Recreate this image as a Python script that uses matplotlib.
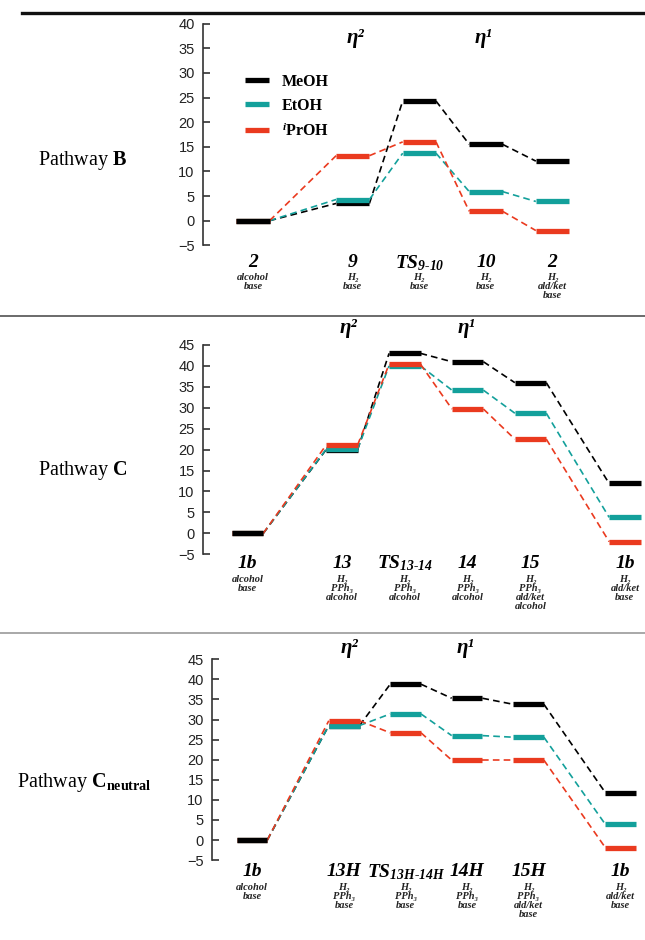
import matplotlib
matplotlib.use("Agg")
from matplotlib import pyplot as plt
from matplotlib.lines import Line2D
from matplotlib import transforms

plt.rcParams["font.family"] = ["Liberation Serif", "DejaVu Serif"]
plt.rcParams["mathtext.fontset"] = "custom"
plt.rcParams["mathtext.rm"] = "Liberation Serif:bold:italic"
plt.rcParams["mathtext.it"] = "Liberation Serif:bold:italic"
plt.rcParams["mathtext.bf"] = "Liberation Serif:bold:italic"
plt.rcParams["mathtext.sf"] = "Liberation Serif:bold"

series_names = ["MeOH", "EtOH", r"$^{i}$PrOH"]
series_colors = ["#000000", "#13a09b", "#ea3a1f"]

# Pathway B
b_pos = [0, 3, 5, 7, 9]
b_labels = ["2", "9", r"$TS_{9\text{-}10}$", "10", "2"]
b_sub = ["alcohol\nbase", "H₂\nbase", "H₂\nbase", "H₂\nbase", "H₂\nald/ket\nbase"]
b_meoh = [0, 3.5, 24.3, 15.5, 12.1]
b_etoh = [0, 4.3, 13.7, 5.9, 3.9]
b_iproh = [0, 13.2, 16.0, 1.9, -2.0]

# Pathway C
c_pos = [0, 3, 5, 7, 9, 12]
c_labels = ["1b", "13", r"$TS_{13\text{-}14}$", "14", "15", "1b"]
c_sub = ["alcohol\nbase", "H₂\nPPh₃\nalcohol", "H₂\nPPh₃\nalcohol", "H₂\nPPh₃\nalcohol",
         "H₂\nPPh₃\nald/ket\nalcohol", "H₂\nald/ket\nbase"]
c_meoh = [0, 20.0, 43.0, 41.0, 36.0, 11.9]
c_etoh = [0, 20.1, 40.0, 34.2, 28.7, 3.8]
c_iproh = [0, 21.1, 40.4, 29.7, 22.5, -2.0]

# Pathway C neutral
n_pos = [0, 3, 5, 7, 9, 12]
n_labels = ["1b", "13H", r"$TS_{13H\text{-}14H}$", "14H", "15H", "1b"]
n_sub = ["alcohol\nbase", "H₂\nPPh₃\nbase", "H₂\nPPh₃\nbase", "H₂\nPPh₃\nbase",
         "H₂\nPPh₃\nald/ket\nbase", "H₂\nald/ket\nbase"]
n_meoh = [0, 28.5, 38.8, 35.3, 33.8, 11.8]
n_etoh = [0, 28.5, 31.4, 26.0, 25.6, 3.9]
n_iproh = [0, 29.7, 26.7, 19.9, 19.9, -1.9]

W, H = 645, 940
fig = plt.figure(figsize=(W / 100, H / 100), dpi=100)


def px_box(x0, y0, x1, y1):
    return [x0 / W, 1 - y1 / H, (x1 - x0) / W, (y1 - y0) / H]


def fy(py):
    return 1 - py / H


def draw_panel(ax, pos, values, labels, subs, ymax, label_y, sub_y):
    for k, (vals, color) in enumerate(zip(values, series_colors)):
        for i, v in enumerate(vals):
            z = 6 if i == 0 and k == 0 else 3 + k
            ax.plot([pos[i] - 0.5, pos[i] + 0.5], [v, v], color=color, lw=3.8,
                    solid_capstyle="butt", zorder=z,
                    label=series_names[k] if i == 0 else None)
        for i in range(len(vals) - 1):
            ax.plot([pos[i] + 0.5, pos[i + 1] - 0.5], [vals[i], vals[i + 1]],
                    color=color, lw=1.2, dashes=(4, 2.5), zorder=2 + k)
    ax.set_ylim(-5, ymax)
    ax.set_yticks(range(-5, ymax + 1, 5))
    ax.set_xticks([])
    for s in ["top", "right", "bottom"]:
        ax.spines[s].set_visible(False)
    ax.spines["left"].set_color("#333333")
    ax.spines["left"].set_linewidth(1.2)
    ax.tick_params(axis="y", direction="in", length=5, width=1.2, color="#333333",
                   labelsize=10.5, pad=6)
    for t in ax.get_yticklabels():
        t.set_family("Liberation Sans")
        t.set_color("#222222")
    ax.patch.set_alpha(0)
    tr = transforms.blended_transform_factory(ax.transData, fig.transFigure)
    for p, lab, sub in zip(pos, labels, subs):
        ax.text(p, fy(label_y), lab, transform=tr, ha="center", va="center",
                fontsize=14, fontweight="bold", fontstyle="italic")
        ax.text(p, fy(sub_y), sub, transform=tr, ha="center", va="top",
                fontsize=7.5, fontweight="bold", fontstyle="italic",
                linespacing=1.0, color="#222222",
                family=["Liberation Serif", "DejaVu Serif"])


ax_b = fig.add_axes(px_box(203, 23.7, 645, 245.3))
ax_b.set_xlim(-1.50, 11.78)
draw_panel(ax_b, b_pos, [b_meoh, b_etoh, b_iproh], b_labels, b_sub, 40, 263, 273)

ax_c = fig.add_axes(px_box(203, 345, 645, 554.2))
ax_c.set_xlim(-1.418, 12.64)
draw_panel(ax_c, c_pos, [c_meoh, c_etoh, c_iproh], c_labels, c_sub, 45, 563, 575)

ax_n = fig.add_axes(px_box(212, 659.3, 645, 860.1))
ax_n.set_xlim(-1.30, 12.79)
draw_panel(ax_n, n_pos, [n_meoh, n_etoh, n_iproh], n_labels, n_sub, 45, 872, 883)

# legend in the top panel
ax_b.legend(loc="upper left", bbox_to_anchor=(237 / W, fy(66)),
            bbox_transform=fig.transFigure, frameon=False, borderpad=0,
            handlelength=1.5, handletextpad=0.8, labelspacing=0.5,
            prop={"family": "Liberation Serif", "weight": "bold", "size": 11.5})

# eta labels
for x, y, s in [(355, 38, "η²"), (483, 38, "η¹"),
                (348, 328, "η²"), (466, 328, "η¹"),
                (349, 648, "η²"), (465, 648, "η¹")]:
    fig.text(x / W, fy(y), s, ha="center", va="center", fontsize=15,
             fontweight="bold", fontstyle="italic")

# pathway names
fig.text(38 / W, fy(160), r"Pathway $\mathsf{B}$", ha="left", va="center", fontsize=14.5)
fig.text(38 / W, fy(470), r"Pathway $\mathsf{C}$", ha="left", va="center", fontsize=14.5)
fig.text(17 / W, fy(783), r"Pathway $\mathsf{C_{neutral}}$", ha="left", va="center",
         fontsize=14.5)

# separator lines
fig.add_artist(Line2D([22 / W, 1], [fy(13), fy(13)], color="#111111", lw=2.4))
fig.add_artist(Line2D([0, 1], [fy(316), fy(316)], color="#6a6a6a", lw=1.4))
fig.add_artist(Line2D([0, 1], [fy(633), fy(633)], color="#9a9a9a", lw=1.2))

fig.savefig("out.png", dpi=100)
